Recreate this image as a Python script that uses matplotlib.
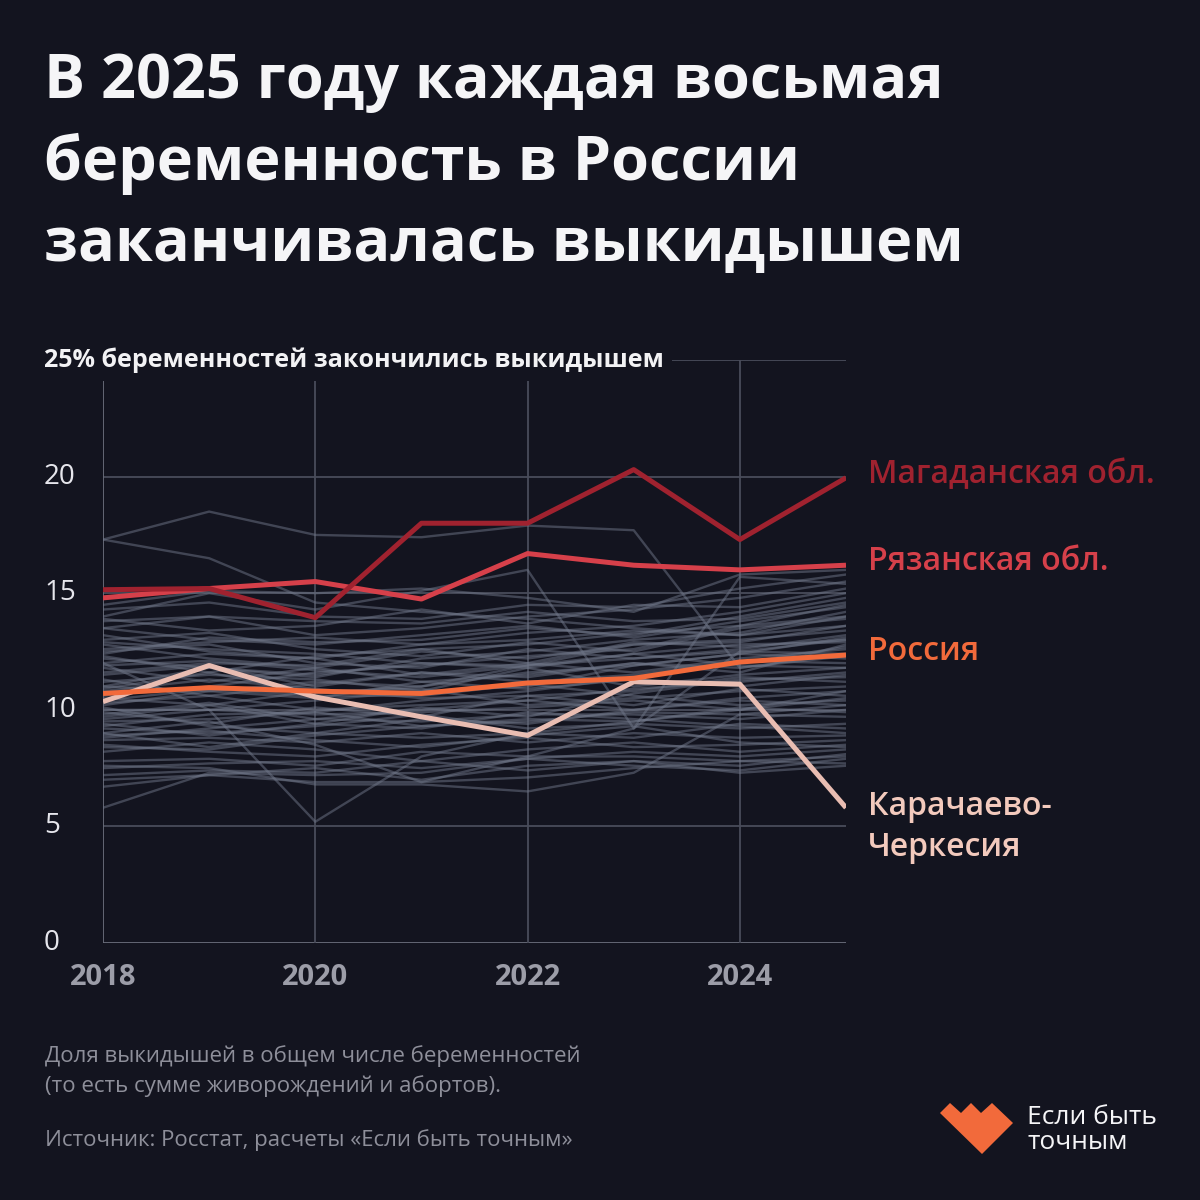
import matplotlib.pyplot as plt
import matplotlib.transforms as mtransforms
from matplotlib.patches import Polygon

years = [2018, 2019, 2020, 2021, 2022, 2023, 2024, 2025]

magadan = [15.15, 15.2, 13.95, 18.0, 18.0, 20.3, 17.3, 19.95]
ryazan = [14.8, 15.2, 15.5, 14.75, 16.7, 16.2, 16.0, 16.2]
russia = [10.7, 10.95, 10.8, 10.7, 11.15, 11.35, 12.05, 12.35]
kchr = [10.35, 11.9, 10.55, 9.7, 8.9, 11.2, 11.1, 5.8]

# остальные регионы (серые линии)
other_regions = [
    [17.3, 18.5, 17.5, 17.4, 17.9, 17.7, 11.8, 12.4],
    [17.3, 16.5, 14.6, 14.2, 13.9, 13.5, 13.2, 13.6],
    [14.0, 15.0, 14.3, 15.1, 16.0, 9.2, 12.5, 13.0],
    [12.0, 10.0, 5.2, 8.0, 9.0, 9.5, 10.0, 10.8],
    [5.8, 7.3, 7.2, 7.3, 7.9, 8.2, 8.0, 8.3],
    [7.6, 7.5, 6.8, 6.8, 6.5, 7.3, 9.8, 10.2],
    [6.7, 7.2, 7.5, 7.0, 7.6, 7.8, 7.3, 7.6],
    [9.0, 9.5, 8.5, 6.9, 8.0, 9.2, 15.7, 15.4],
    [14.5, 15.1, 15.0, 15.2, 14.8, 14.2, 15.8, 16.0],
    [13.8, 14.0, 13.2, 13.5, 14.0, 14.3, 14.8, 15.5],
    [13.5, 13.0, 12.8, 13.2, 13.6, 13.1, 13.8, 14.4],
    [13.2, 12.5, 12.2, 12.8, 13.0, 13.4, 13.2, 14.0],
    [13.0, 13.3, 12.6, 12.3, 12.9, 12.5, 13.5, 13.9],
    [12.8, 12.2, 11.8, 12.5, 12.2, 12.8, 13.0, 13.4],
    [12.5, 12.8, 12.0, 11.8, 12.6, 12.2, 12.6, 13.2],
    [12.2, 11.8, 11.5, 12.0, 11.8, 12.4, 12.8, 12.9],
    [12.0, 12.4, 12.2, 11.5, 12.0, 11.6, 12.2, 12.6],
    [11.8, 11.2, 11.8, 11.2, 11.5, 12.0, 11.8, 12.3],
    [11.5, 11.9, 11.0, 11.6, 11.2, 11.5, 12.1, 12.0],
    [11.2, 11.5, 11.3, 10.8, 11.8, 11.0, 11.5, 11.8],
    [11.0, 10.8, 10.5, 11.2, 10.9, 11.3, 11.0, 11.5],
    [10.8, 11.3, 10.9, 10.5, 10.6, 10.8, 11.4, 11.2],
    [10.5, 10.2, 10.8, 10.9, 10.2, 10.5, 10.8, 11.0],
    [10.3, 10.6, 10.0, 10.2, 10.4, 10.0, 10.5, 10.8],
    [10.0, 10.0, 9.8, 9.9, 10.1, 10.4, 10.0, 10.5],
    [9.8, 10.3, 9.6, 9.5, 9.8, 9.8, 9.6, 10.0],
    [9.5, 9.6, 9.9, 9.3, 9.5, 9.9, 9.8, 9.7],
    [9.2, 9.0, 9.3, 9.8, 9.2, 9.4, 9.2, 9.4],
    [9.0, 8.4, 9.0, 8.8, 9.0, 8.8, 9.4, 9.2],
    [8.7, 8.8, 8.6, 9.0, 8.6, 9.0, 8.8, 8.9],
    [8.5, 8.2, 8.0, 8.5, 8.8, 8.4, 8.5, 8.7],
    [8.2, 8.6, 8.3, 7.8, 8.3, 8.6, 8.2, 8.5],
    [7.8, 7.9, 7.6, 8.2, 8.0, 8.0, 7.8, 8.0],
    [7.5, 7.7, 7.8, 7.5, 7.9, 7.6, 7.4, 7.9],
    [7.2, 7.4, 7.3, 7.8, 7.4, 7.8, 7.6, 8.1],
    [7.0, 7.2, 6.9, 6.9, 7.1, 7.5, 7.8, 7.7],
    [11.0, 11.8, 11.4, 12.2, 12.5, 13.0, 13.3, 14.2],
    [10.6, 11.0, 11.6, 11.9, 12.3, 12.6, 13.6, 14.5],
    [10.2, 10.8, 11.2, 11.0, 11.9, 12.8, 12.9, 13.6],
    [9.6, 10.0, 10.4, 10.8, 11.0, 11.9, 12.4, 13.1],
    [9.3, 9.8, 9.9, 10.4, 10.8, 11.4, 12.0, 12.7],
    [12.4, 13.1, 12.9, 13.0, 13.5, 13.2, 14.0, 14.8],
    [11.6, 12.0, 11.9, 12.6, 12.8, 13.3, 13.6, 14.0],
    [13.5, 14.0, 13.8, 13.7, 14.2, 13.8, 13.9, 14.6],
    [12.6, 12.9, 13.1, 12.8, 13.3, 13.6, 14.2, 15.0],
    [8.8, 9.2, 9.6, 10.0, 10.4, 10.9, 11.2, 11.6],
    [9.9, 9.4, 10.1, 9.7, 10.6, 10.2, 10.9, 10.6],
    [10.9, 11.6, 10.7, 11.0, 11.6, 11.9, 12.4, 12.2],
    [11.3, 10.6, 11.1, 11.6, 11.4, 12.0, 11.6, 12.8],
    [12.9, 12.6, 12.4, 12.0, 11.9, 12.2, 12.5, 12.4],
    [10.1, 9.3, 9.0, 9.6, 9.4, 10.0, 10.4, 10.2],
    [9.4, 8.9, 9.4, 9.2, 9.9, 9.6, 9.3, 9.0],
    [8.9, 9.1, 8.7, 8.4, 8.9, 9.3, 8.6, 8.4],
    [11.9, 12.1, 11.7, 11.4, 11.9, 12.4, 11.9, 11.8],
    [10.4, 10.9, 10.6, 10.6, 11.1, 10.6, 10.2, 10.4],
    [13.9, 13.4, 13.6, 14.3, 13.7, 14.5, 14.4, 15.2],
    [14.3, 14.6, 14.0, 13.9, 14.5, 14.4, 15.2, 15.8],
    [12.3, 11.6, 12.3, 12.6, 12.0, 12.9, 12.7, 13.0],
    [9.7, 10.2, 9.4, 10.1, 9.7, 10.7, 11.3, 11.4],
    [8.4, 8.3, 8.9, 9.3, 9.6, 9.5, 10.1, 9.9],
]

x_ticks = [2018, 2020, 2022, 2024]
y_ticks = [0, 5, 10, 15, 20]

BG = "#13141f"
GRID = "#494c5a"
C_MAG = "#a0222f"
C_RYA = "#d6404a"
C_RUS = "#f26a3b"
C_KCH = "#e9bdb2"

plt.rcParams["font.family"] = ["Open Sans", "DejaVu Sans"]

W = H = 1200
fig = plt.figure(figsize=(12, 12), dpi=100)
fig.patch.set_facecolor(BG)


def fx(px):
    return px / W


def fy(py):
    return 1 - py / H


ax = fig.add_axes([fx(103), fy(943), fx(846) - fx(103), fy(360) - fy(943)])
ax.set_facecolor(BG)
ax.set_xlim(2018, 2025)
ax.set_ylim(0, 25)
for s in ax.spines.values():
    s.set_visible(False)
ax.set_xticks([])
ax.set_yticks([])

# сетка
for yv in y_ticks[1:] + [25]:
    ax.axhline(yv, color=GRID, lw=1.3, zorder=1)
ax.axhline(0, color="#6a6d7a", lw=1.3, zorder=1)
for xv in x_ticks:
    ax.axvline(xv, color=GRID if xv != 2018 else "#6a6d7a", lw=1.3, zorder=1)

for row in other_regions:
    ax.plot(years, row, color="#707789", lw=1.7, alpha=0.5, zorder=2)

for vals, col in [(kchr, C_KCH), (russia, C_RUS), (ryazan, C_RYA), (magadan, C_MAG)]:
    ax.plot(years, vals, color=col, lw=3.6, zorder=5, solid_capstyle="butt")

# подписи осей
ytrans = mtransforms.blended_transform_factory(fig.transFigure, ax.transData)
for yv in y_ticks:
    ax.text(fx(44), yv, str(yv), transform=ytrans, va="center",
            ha="left", fontsize=20, color="#e6e6ec")
ax.text(fx(44), 25, "25% беременностей закончились выкидышем", transform=ytrans,
        va="center", ha="left", fontsize=18, fontweight="bold", color="#f2f2f4",
        bbox=dict(facecolor=BG, edgecolor="none", pad=6), zorder=6)
for xv in x_ticks:
    ax.annotate(str(xv), xy=(xv, 0), xycoords="data", xytext=(0, -25),
                textcoords="offset points", ha="center", va="center",
                fontsize=21, fontweight="bold", color="#9c9da8")

# подписи серий
fig.text(fx(868), fy(475), "Магаданская обл.", color=C_MAG, fontsize=23, fontweight="semibold", va="center")
fig.text(fx(868), fy(562), "Рязанская обл.", color=C_RYA, fontsize=23, fontweight="semibold", va="center")
fig.text(fx(868), fy(652), "Россия", color=C_RUS, fontsize=23, fontweight="semibold", va="center")
fig.text(fx(868), fy(827), "Карачаево-\nЧеркесия", color="#f3cabd", fontsize=23,
         fontweight="semibold", va="center", linespacing=1.3)

# заголовок
fig.text(fx(44), fy(52), "В 2025 году каждая восьмая\nбеременность в России\nзаканчивалась выкидышем",
         color="#f5f5f7", fontsize=44, fontweight="bold", va="top", ha="left", linespacing=1.43)

# примечание
fig.text(fx(45), fy(1071), "Доля выкидышей в общем числе беременностей\n(то есть сумме живорождений и абортов).",
         color="#8e8f9a", fontsize=16, va="center", ha="left", linespacing=1.5)
fig.text(fx(45), fy(1140), "Источник: Росстат, расчеты «Если быть точным»",
         color="#8e8f9a", fontsize=16, va="center", ha="left")

# логотип
logo = [(940, 1113), (950, 1103), (961, 1113), (971, 1103), (981, 1113),
        (992, 1103), (1013, 1123), (982, 1154)]
fig.patches.append(Polygon([(fx(a), fy(b)) for a, b in logo], closed=True,
                           facecolor="#f26a3b", edgecolor="none", transform=fig.transFigure))
fig.text(fx(1027), fy(1130), "Если быть\nточным", color="#f5f5f7", fontsize=19,
         va="center", ha="left", linespacing=1.05)

fig.savefig("out.png", dpi=100, facecolor=BG)
